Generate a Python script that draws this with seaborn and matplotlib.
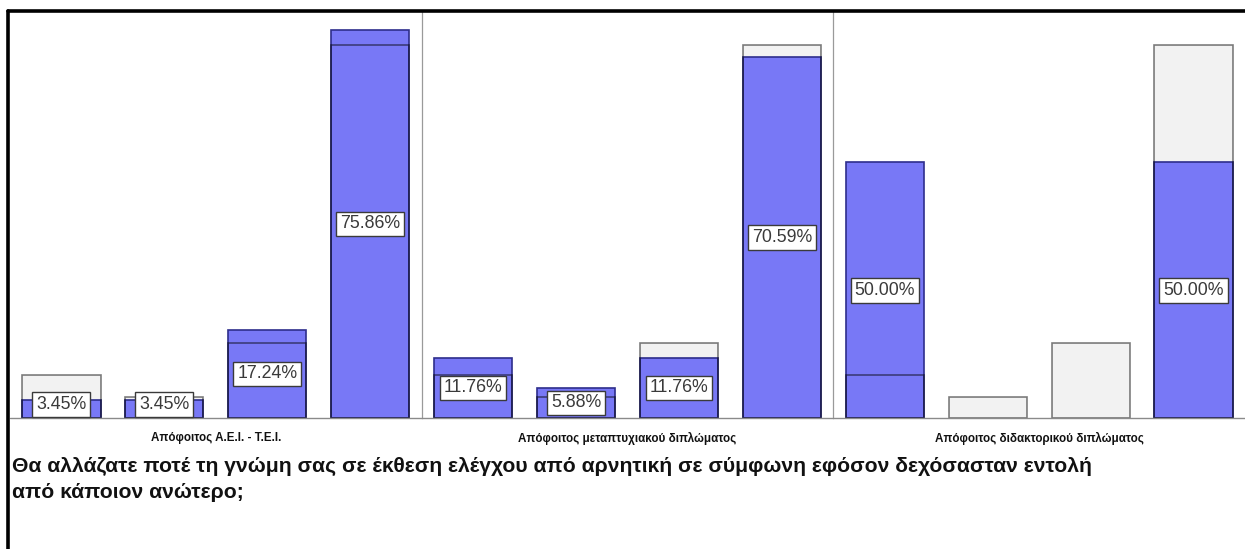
import matplotlib
matplotlib.use("Agg")
import matplotlib.pyplot as plt
from matplotlib.lines import Line2D
import seaborn as sns
import pandas as pd

# Education groups (one panel each)
groups = [
    "Απόφοιτος Α.Ε.Ι. - Τ.Ε.Ι.",
    "Απόφοιτος μεταπτυχιακού διπλώματος",
    "Απόφοιτος διδακτορικού διπλώματος",
]
# Answer options, in chart order
answers = ["Απάντηση 1", "Απάντηση 2", "Απάντηση 3", "Απάντηση 4"]

# Percentage of each group choosing each answer
pct_aei_tei = [3.45, 3.45, 17.24, 75.86]
pct_master = [11.76, 5.88, 11.76, 70.59]
pct_phd = [50.00, 0.00, 0.00, 50.00]
# Percentage over the whole sample (reference bars behind each panel)
pct_overall = [8.33, 4.17, 14.58, 72.92]

title = ("Θα αλλάζατε ποτέ τη γνώμη σας σε έκθεση ελέγχου από αρνητική σε σύμφωνη εφόσον δεχόσασταν εντολή\n"
         "από κάποιον ανώτερο;")

group_values = [pct_aei_tei, pct_master, pct_phd]

sns.set_theme(style="white")
plt.rcParams["font.family"] = ["Liberation Sans", "DejaVu Sans"]

W, H = 1245, 549
fig = plt.figure(figsize=(W / 100, H / 100), dpi=100)
fig.patch.set_facecolor("white")

BLUE = "#7878F6"
BLUE_EDGE = "#2E2E8C"
GRAY = "#F2F2F2"

left_px, top_px, base_px = 10, 11, 418
panel_w = (W - left_px) / 3
px_per_pct = 388 / 75.86
ymax = (base_px - top_px) / px_per_pct

for i, (grp, vals) in enumerate(zip(groups, group_values)):
    ax = fig.add_axes([(left_px + i * panel_w) / W, (H - base_px) / H,
                       panel_w / W, (base_px - top_px) / H])
    df = pd.DataFrame({"answer": answers, "overall": pct_overall, "group": vals})

    # overall reference bars (fill only)
    sns.barplot(data=df, x="answer", y="overall", ax=ax, color=GRAY,
                saturation=1, width=0.76, edgecolor="none", linewidth=0,
                zorder=1)
    # group bars
    sns.barplot(data=df, x="answer", y="group", ax=ax, color=BLUE,
                saturation=1, width=0.76, edgecolor=BLUE_EDGE, linewidth=1.2,
                zorder=2)
    # overall reference outlines drawn over the group bars
    sns.barplot(data=df, x="answer", y="overall", ax=ax, fill=False,
                width=0.76, edgecolor=(0, 0, 0, 0.5), linewidth=1.2,
                zorder=3)
    # empty categories leave no mark
    for p in ax.patches:
        if p.get_height() == 0:
            p.set_visible(False)

    ax.set_xlim(-0.5, 3.5)
    ax.set_ylim(0, ymax)
    ax.set_xlabel("")
    ax.set_ylabel("")
    ax.set_xticks([])
    ax.set_yticks([])
    for s in ("top", "right", "bottom"):
        ax.spines[s].set_visible(False)
    if i == 0:
        ax.spines["left"].set_visible(False)
    else:
        ax.spines["left"].set_color("#9A9A9A")
        ax.spines["left"].set_linewidth(0.9)
    ax.axhline(0, color="#8A8A8A", lw=1.0, zorder=4, clip_on=False)

    # value labels inside the group bars
    floor = 13.5 / px_per_pct
    for j, v in enumerate(vals):
        if v <= 0:
            continue
        ax.text(j, max(v / 2, floor), f"{v:.2f}%", ha="center", va="center",
                fontsize=12.8, color="#3A3A3A", zorder=6,
                bbox=dict(boxstyle="square,pad=0.22", fc="white",
                          ec="#3A3A3A", lw=1.0))

    # group name under the panel
    fig.text((left_px + (i + 0.5) * panel_w) / W, 1 - 438 / H, grp,
             ha="center", va="center", fontsize=8.4, fontweight="bold",
             color="#111111")

fig.text(12 / W, 1 - 457 / H, title, ha="left", va="top", fontsize=15.2,
         fontweight="bold", color="#111111", linespacing=1.45)

# outer frame
fig.add_artist(Line2D([8 / W, 1.0], [1 - 11 / H, 1 - 11 / H], color="black",
                      lw=2.6, transform=fig.transFigure))
fig.add_artist(Line2D([8 / W, 8 / W], [0, 1 - 11 / H], color="black",
                      lw=2.6, transform=fig.transFigure))

fig.savefig("out.png", dpi=100)
